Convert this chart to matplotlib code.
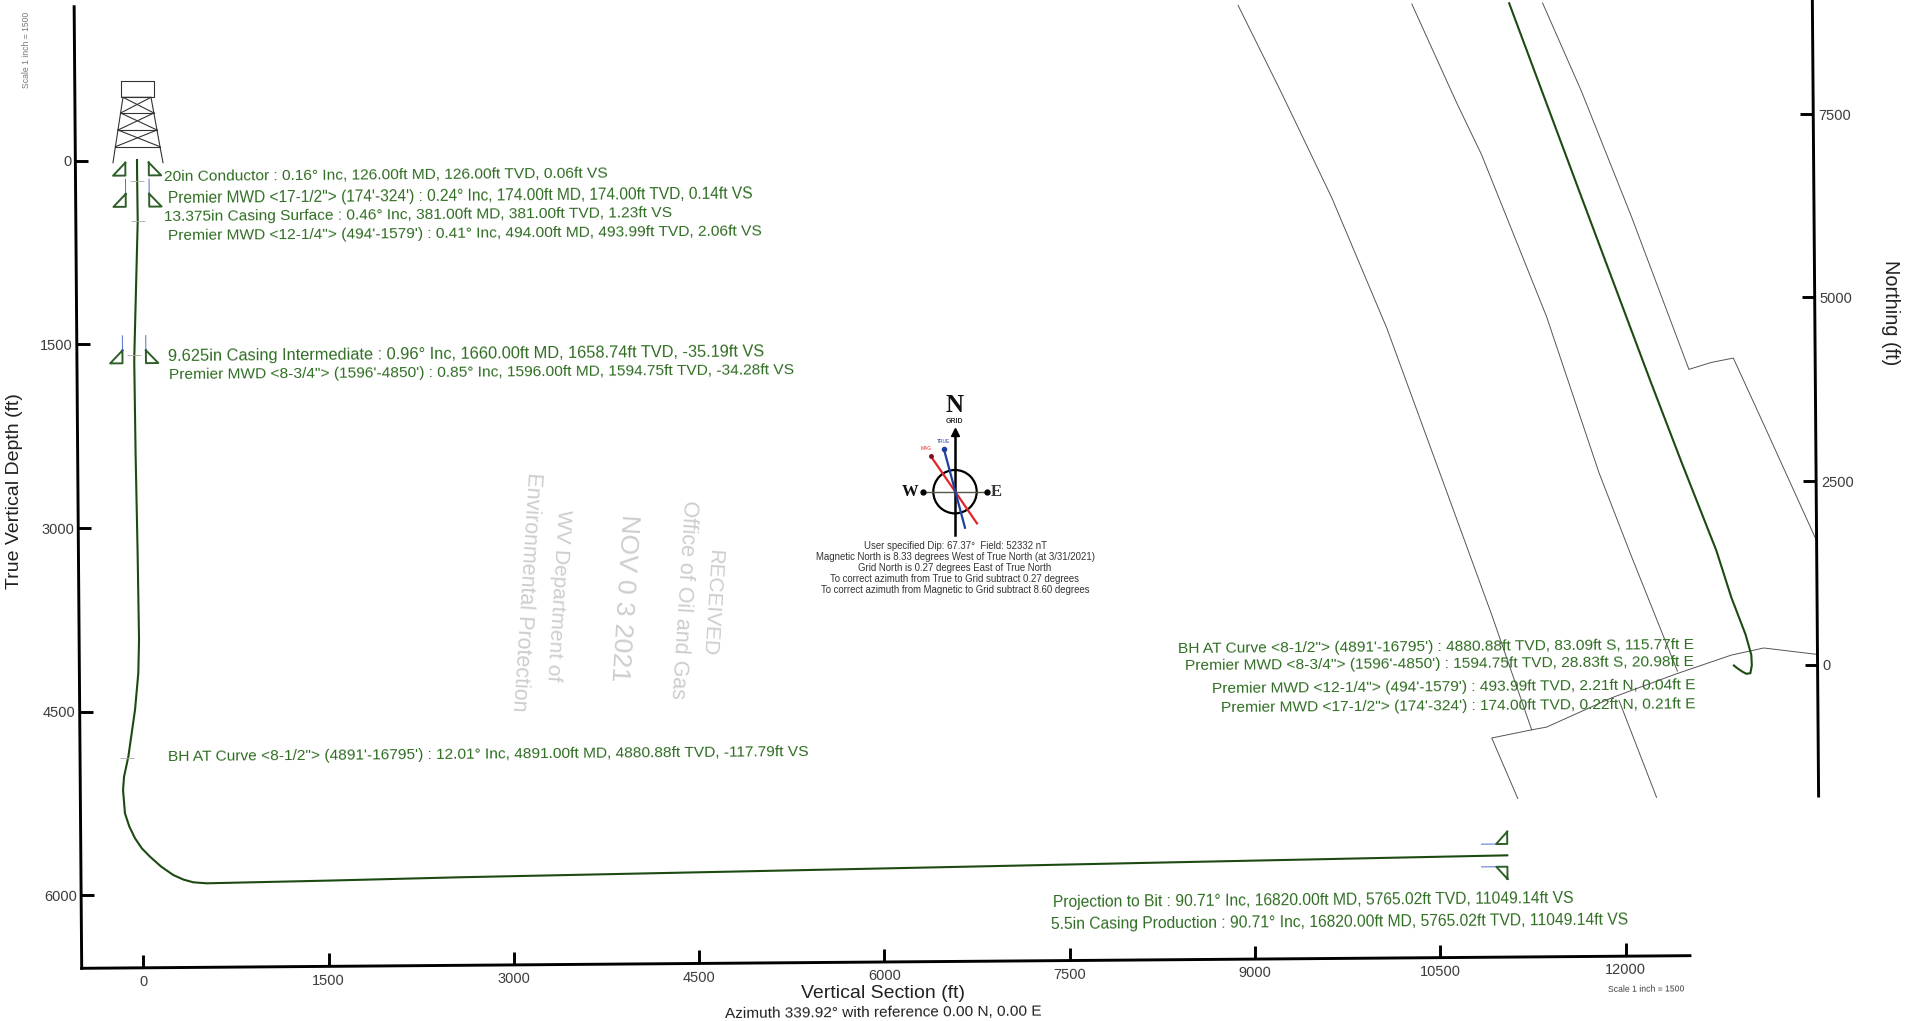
import matplotlib
matplotlib.use('Agg')
import matplotlib.pyplot as plt
from matplotlib.patches import Circle
from matplotlib.transforms import Affine2D

W, H = 1917, 1021
TILT = 0.45  # the scan is rotated a little, counter clockwise

# vertical section view
VS_TICKS = [0, 1500, 3000, 4500, 6000, 7500, 9000, 10500, 12000]
TVD_TICKS = [0, 1500, 3000, 4500, 6000]
WELL_VS = [0, 0.06, 1.2, 2, -34, -35, -30, -20, -14, -22, -51, -108, -144, -153, -139, -105, -59, -5, 61, 150, 248,
           330, 410, 519, 1490, 2569, 6000, 8000, 11049]
WELL_TVD = [0, 126, 381, 494, 1595, 1659, 2400, 3200, 3918, 4190, 4490, 4871, 5034, 5142, 5333, 5440, 5538, 5620, 5689,
            5770, 5840, 5878, 5901, 5910, 5896, 5877, 5832, 5805, 5765]
CASING_VS = [0.06, 1.23, -35.19]
CASING_TVD = [126, 381, 1658.74]
SURVEY_VS = [0, 2, -34, -118]
SURVEY_TVD = [174, 494, 1595, 4881]

# plan view
NORTH_TICKS = [0, 2500, 5000, 7500]
PLAN_E = [0, 55, 117, 172, 227, 248, 242, 165, -27, -229, -701, -1133, -2030, -3028]
PLAN_N = [0, -43, -85, -114, -107, 0, 142, 420, 925, 1566, 2775, 3914, 6333, 9037]
LEASE_A_E = [-6768, -6172, -5494, -4750, -4312, -3874, -3334, -2796]
LEASE_A_N = [9037, 7828, 6404, 4625, 3416, 2206, 712, -854]
LEASE_B_E = [-4371, -3762, -3423, -2546, -1838, -1400, -779]
LEASE_B_N = [9037, 7685, 6974, 4768, 2633, 1494, -71]
LEASE_C_E = [-2567, -2039, -1364, -588, -278, 26, 473, 1150]
LEASE_C_N = [9037, 7828, 6120, 4035, 4127, 4184, 3202, 1700]
CROSS_E = [-2996, -3348, -2796, -2589, -1690, -793, -33, 415, 1150]
CROSS_N = [-1786, -961, -854, -818, -427, -107, 142, 235, 142]
LOWER_E = [-1588, -1081]
LOWER_N = [-463, -1786]

LABELS_LEFT = [
    (164, 177.5, 11.15, '20in Conductor : 0.16° Inc, 126.00ft MD, 126.00ft TVD, 0.06ft VS'),
    (168, 199, 11.2, 'Premier MWD <17-1/2"> (174\'-324\') : 0.24° Inc, 174.00ft MD, 174.00ft TVD, 0.14ft VS'),
    (164, 217, 11.15, '13.375in Casing Surface : 0.46° Inc, 381.00ft MD, 381.00ft TVD, 1.23ft VS'),
    (168, 236, 11.15, 'Premier MWD <12-1/4"> (494\'-1579\') : 0.41° Inc, 494.00ft MD, 493.99ft TVD, 2.06ft VS'),
    (168, 356.5, 11.8, '9.625in Casing Intermediate : 0.96° Inc, 1660.00ft MD, 1658.74ft TVD, -35.19ft VS'),
    (169, 375, 11.15, 'Premier MWD <8-3/4"> (1596\'-4850\') : 0.85° Inc, 1596.00ft MD, 1594.75ft TVD, -34.28ft VS'),
    (168, 757, 11.15, 'BH AT Curve <8-1/2"> (4891\'-16795\') : 12.01° Inc, 4891.00ft MD, 4880.88ft TVD, -117.79ft VS'),
    (1053, 903, 11.25, 'Projection to Bit : 90.71° Inc, 16820.00ft MD, 5765.02ft TVD, 11049.14ft VS'),
    (1051, 925, 11.25, '5.5in Casing Production : 90.71° Inc, 16820.00ft MD, 5765.02ft TVD, 11049.14ft VS'),
]
LABELS_RIGHT = [
    (1693.5, 644.5, 'BH AT Curve <8-1/2"> (4891\'-16795\') : 4880.88ft TVD, 83.09ft S, 115.77ft E'),
    (1694, 662.5, 'Premier MWD <8-3/4"> (1596\'-4850\') : 1594.75ft TVD, 28.83ft S, 20.98ft E'),
    (1695.5, 685.5, 'Premier MWD <12-1/4"> (494\'-1579\') : 493.99ft TVD, 2.21ft N, 0.04ft E'),
    (1695.5, 704.5, 'Premier MWD <17-1/2"> (174\'-324\') : 174.00ft TVD, 0.22ft N, 0.21ft E'),
]
NOTES = [
    'User specified Dip: 67.37°  Field: 52332 nT',
    'Magnetic North is 8.33 degrees West of True North (at 3/31/2021)',
    'Grid North is 0.27 degrees East of True North',
    'To correct azimuth from True to Grid subtract 0.27 degrees',
    'To correct azimuth from Magnetic to Grid subtract 8.60 degrees',
]
STAMP = [
    (711.7, 603, 'RECEIVED', 15),
    (683.3, 600, 'Office of Oil and Gas', 15.5),
    (623.3, 598, 'NOV 0 3 2021', 19),
    (558.3, 595, 'WV Department of', 15),
    (526, 592, 'Environmental Protection', 15.5),
]

LINE_GREEN = '#1c4a12'
TEXT_GREEN = '#2f6d22'
TICK_GREY = '#3a3a3a'

plt.rcParams['font.family'] = ['Liberation Sans', 'DejaVu Sans']

fig = plt.figure(figsize=(W / 100, H / 100), dpi=100, facecolor='white')
rot = Affine2D().rotate_deg_around(81.7, 52.7, TILT)


def rect(left, bottom, width, height):
    return [left / W, bottom / H, width / W, height / H]


def tilt(ax):
    # push everything of an axes through the scan rotation
    for line in ax.lines:
        line.set_transform(line.get_transform() + rot)
        line.set_clip_on(False)
    for spine in ax.spines.values():
        spine.set_position(('outward', 0))
        spine.set_transform(spine.get_transform() + rot)
    for axis in (ax.xaxis, ax.yaxis):
        for tick in axis.get_major_ticks():
            for art in (tick.tick1line, tick.tick2line, tick.label1, tick.label2):
                art.set_transform(art.get_transform() + rot)


# vertical section
ax = fig.add_axes(rect(81.7, 52.7, 1608.3, 961.6))
ax.patch.set_alpha(0)
ax.plot(WELL_VS, WELL_TVD, color=LINE_GREEN, lw=1.5, solid_joinstyle='round')
ax.plot(SURVEY_VS, SURVEY_TVD, ls='none', marker='_', ms=10, mew=0.6, color='#aaaaaa')

for i, (vs, tvd) in enumerate(zip(CASING_VS, CASING_TVD)):
    for side in (-1, 1):
        inner = vs + side * 95
        outer = vs + side * 195
        ax.plot([inner, inner, outer, inner], [tvd - 105, tvd, tvd, tvd - 105], color='#2e5f28', lw=1.4)
        if i > 0:
            ax.plot([inner, inner], [tvd - 105, tvd - 225], color='#3355bb', lw=0.6)

shoe_vs, shoe_tvd = 11049, 5765
for side in (-1, 1):
    base = shoe_tvd + side * 93
    ax.plot([shoe_vs, shoe_vs, shoe_vs - 90, shoe_vs], [base + side * 100, base, base, base + side * 100],
            color='#2e5f28', lw=1.4)
    ax.plot([shoe_vs - 90, shoe_vs - 210], [base, base], color='#3355bb', lw=0.6)

ax.set_xlim(-499, 12521)
ax.set_ylim(6596, -1256)
ax.set_xticks(VS_TICKS)
ax.set_yticks(TVD_TICKS)
ax.spines['top'].set_visible(False)
ax.spines['right'].set_visible(False)
ax.spines['left'].set_linewidth(2.1)
ax.spines['bottom'].set_linewidth(2.1)
ax.tick_params(axis='both', direction='in', length=9.5, width=2.1, labelsize=10.5, labelcolor=TICK_GREY)
ax.tick_params(axis='x', pad=5, labelrotation=TILT)
ax.tick_params(axis='y', pad=3, labelrotation=TILT)
ax.set_xlabel('Vertical Section (ft)', fontsize=14, color='#222222')
ax.xaxis.set_label_coords(883 / W, 1 - 993.5 / H, transform=fig.transFigure)
ax.set_ylabel('True Vertical Depth (ft)', fontsize=14, color='#222222')
ax.yaxis.set_label_coords(15 / W, 1 - 491 / H, transform=fig.transFigure)
ax.xaxis.label.set_va('center')
ax.yaxis.label.set_va('center')
tilt(ax)

# plan view, only the right hand axis is shown
ax2 = fig.add_axes(rect(727.3, 211.3, 1092.6, 845))
ax2.patch.set_alpha(0)
for xs, ys in [(LEASE_A_E, LEASE_A_N), (LEASE_B_E, LEASE_B_N), (LEASE_C_E, LEASE_C_N),
               (CROSS_E, CROSS_N), (LOWER_E, LOWER_N)]:
    ax2.plot(xs, ys, color='#555555', lw=0.7)
ax2.plot(PLAN_E, PLAN_N, color=LINE_GREEN, lw=1.5)
ax2.set_xlim(-13919, 1155)
ax2.set_ylim(-1786, 9715)
ax2.set_xticks([])
ax2.set_yticks(NORTH_TICKS)
for side in ('top', 'left', 'bottom'):
    ax2.spines[side].set_visible(False)
ax2.spines['right'].set_linewidth(2.1)
ax2.yaxis.tick_right()
ax2.tick_params(axis='y', direction='in', length=9.5, width=2.1, labelsize=10.5, labelcolor=TICK_GREY, pad=3.5,
                labelrotation=TILT)
ax2.set_ylabel('Northing (ft)', fontsize=14.3, color='#222222', rotation=270)
ax2.yaxis.set_label_coords(1890 / W, 1 - 313 / H, transform=fig.transFigure)
ax2.yaxis.label.set_va('center')
tilt(ax2)

# overlay in reference pixels for the annotations, compass and derrick
deco = fig.add_axes([0, 0, 1, 1])
deco.set_xlim(0, W)
deco.set_ylim(H, 0)
deco.axis('off')


def label(x, y, s, ha, **kw):
    kw.setdefault('rotation', TILT)
    deco.text(x, y, s, ha=ha, va='center', rotation_mode='anchor', **kw)


for x, y, size, s in LABELS_LEFT:
    label(x, y, s, 'left', fontsize=size, color=TEXT_GREEN)
for x, y, s in LABELS_RIGHT:
    label(x, y, s, 'right', fontsize=11.15, color=TEXT_GREEN)

label(883, 1013, 'Azimuth 339.92° with reference 0.00 N, 0.00 E', 'center', fontsize=11.1, color='#222222')
label(1645.7, 989, 'Scale 1 inch = 1500', 'center', fontsize=6.2, color='#444444')
label(27, 50, 'Scale 1 inch = 1500', 'center', fontsize=6.2, color='#777777', rotation=90)

for x, y, s, size in STAMP:
    label(x, y, s, 'center', fontsize=size, color='#cdcdcd', rotation=-93.6)

# derrick
dk = dict(color='#333333', lw=0.8)
deco.plot([120.5, 154, 154, 120.5, 120.5], [80.7, 80.7, 97.3, 97.3, 80.7], **dk)
deco.plot([113, 115.4, 123, 151, 160, 163], [162.7, 146.7, 97.3, 97.3, 146.7, 162.7], **dk)
levels = [(97.3, 123, 151), (113, 120.6, 153.9), (130, 118, 157), (146.7, 115.4, 160)]
for (y0, l0, r0), (y1, l1, r1) in zip(levels[:-1], levels[1:]):
    deco.plot([l0, r1], [y0, y1], **dk)
    deco.plot([r0, l1], [y0, y1], **dk)
    deco.plot([l1, r1], [y1, y1], **dk)

# compass
cx, cy = 955, 491.7
deco.add_patch(Circle((cx, cy), 21.7, fill=False, ec='black', lw=1.6))
deco.plot([cx - 32, cx + 32], [cy, cy], color='#555544', lw=1)
deco.plot([cx - 32, cx + 32], [cy, cy], ls='none', marker='o', ms=3.5, color='black')
deco.plot([cx, cx], [cy + 43, cy - 58], color='black', lw=1.8)
deco.plot([cx], [cy - 60], marker='^', ms=6, color='black')
deco.plot([cx - 24.3, cx + 22], [cy - 35.7, cy + 31.7], color='#e0262a', lw=1.6)
deco.plot([cx - 11, cx + 10], [cy - 42.3, cy + 36], color='#1f3f9f', lw=1.6)
deco.plot([cx - 24.3], [cy - 35.7], marker='o', ms=2.5, color='#801020')
deco.plot([cx - 11], [cy - 42.3], marker='o', ms=3, color='#1f3f9f')
label(cx, 405, 'N', 'center', fontsize=18, fontweight='bold', family='Liberation Serif', color='#111111', rotation=0)
label(cx, 421, 'GRID', 'center', fontsize=5, fontweight='bold', color='#333333', rotation=0)
label(910, cy, 'W', 'center', fontsize=12, fontweight='bold', family='Liberation Serif', color='#111111', rotation=0)
label(996, cy, 'E', 'center', fontsize=12, fontweight='bold', family='Liberation Serif', color='#333333', rotation=0)
label(943.5, 441, 'TRUE', 'center', fontsize=3.5, color='#1f3f9f', rotation=0)
label(926, 448, 'MAG', 'center', fontsize=3.5, color='#e0262a', rotation=0)

for y, s in zip([545.8, 557.2, 568.2, 578.8, 589.8], NOTES):
    label(955, y, s, 'center', fontsize=6.9, color='#333333', rotation=0)

fig.savefig('out.png', dpi=100)
